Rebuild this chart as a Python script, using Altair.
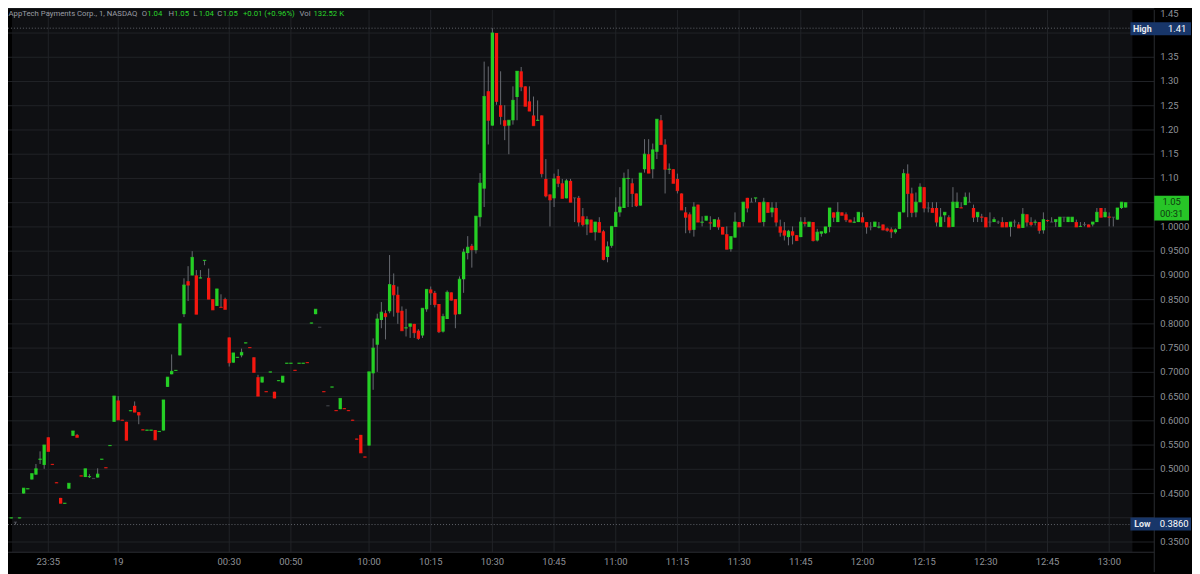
import altair as alt
import pandas as pd

# ---------------- data (1-minute bars, first bar index = -87, 10:00 bar = 0) -------------
FIRST_BAR = -87
OPEN = [
    0.399, 0.391, 0.399, 0.450, 0.459, 0.479, 0.489, 0.520, 0.509, 0.566,
    0.511, 0.473, 0.441, 0.429, 0.460, 0.569, 0.571, 0.487, 0.484, 0.484,
    0.481, 0.483, 0.520, 0.504, 0.548, 0.598, 0.642, 0.602, 0.598, 0.620,
    0.631, 0.618, 0.582, 0.580, 0.580, 0.581, 0.577, 0.580, 0.670, 0.696,
    0.703, 0.735, 0.820, 0.888, 0.900, 0.900, 0.894, 0.930, 0.895, 0.851,
    0.837, 0.835, 0.851, 0.772, 0.720, 0.730, 0.735, 0.760, 0.752, 0.731,
    0.690, 0.679, 0.661, 0.700, 0.660, 0.682, 0.679, 0.718, 0.718, 0.705,
    0.718, 0.718, 0.721, 0.801, 0.820, 0.793, 0.661, 0.631, 0.669, 0.622,
    0.624, 0.626, 0.622, 0.602, 0.563, 0.571, 0.526, 0.549, 0.698, 0.757,
    0.808, 0.822, 0.826, 0.880, 0.860, 0.827, 0.791, 0.794, 0.800, 0.786,
    0.776, 0.830, 0.871, 0.864, 0.841, 0.784, 0.810, 0.865, 0.851, 0.820,
    0.892, 0.946, 0.961, 0.952, 1.020, 1.079, 1.280, 1.209, 1.400, 1.251,
    1.220, 1.209, 1.220, 1.268, 1.321, 1.290, 1.259, 1.230, 1.219, 1.230,
    1.099, 1.067, 1.059, 1.105, 1.090, 1.059, 1.095, 1.060, 1.060, 1.022,
    1.005, 1.015, 0.989, 1.010, 0.991, 0.938, 0.961, 1.000, 1.030, 1.039,
    1.099, 1.090, 1.069, 1.044, 1.119, 1.150, 1.119, 1.155, 1.220, 1.170,
    1.118, 1.119, 1.099, 1.069, 1.030, 1.026, 0.994, 1.046, 1.009, 1.013,
    1.009, 1.000, 1.015, 1.000, 0.985, 0.954, 0.978, 1.010, 1.010, 1.060,
    1.051, 1.059, 1.051, 1.010, 1.051, 1.030, 1.039, 1.001, 0.993, 0.979,
    0.991, 0.983, 0.979, 1.010, 1.000, 1.010, 0.972, 0.986, 0.987, 1.000,
    1.030, 1.010, 1.030, 1.026, 1.015, 1.009, 1.010, 1.020, 1.010, 1.000,
    1.000, 0.999, 1.005, 0.997, 0.995, 0.989, 0.996, 1.030, 1.110, 1.069,
    1.030, 1.051, 1.082, 1.039, 1.039, 1.039, 1.000, 1.024, 1.020, 1.000,
    1.039, 1.040, 1.045, 1.051, 1.039, 1.020, 1.021, 1.020, 1.010, 1.010,
    1.010, 1.010, 1.010, 1.000, 1.010, 1.005, 0.998, 1.026, 1.010, 1.009,
    1.010, 0.993, 1.014, 1.010, 1.010, 1.000, 1.020, 1.010, 1.010, 1.010,
    1.000, 1.005, 1.005, 1.005, 1.010, 1.039, 1.020, 1.021, 1.020, 1.015, 1.039, 1.040,
]
HIGH = [
    0.400, 0.391, 0.400, 0.461, 0.460, 0.491, 0.511, 0.537, 0.550, 0.566,
    0.511, 0.473, 0.441, 0.430, 0.471, 0.579, 0.573, 0.487, 0.501, 0.490,
    0.481, 0.502, 0.521, 0.504, 0.549, 0.651, 0.651, 0.602, 0.598, 0.621,
    0.640, 0.618, 0.582, 0.581, 0.581, 0.581, 0.578, 0.643, 0.690, 0.737,
    0.704, 0.800, 0.894, 0.919, 0.950, 0.911, 0.911, 0.931, 0.914, 0.851,
    0.872, 0.861, 0.854, 0.772, 0.740, 0.731, 0.749, 0.761, 0.752, 0.731,
    0.695, 0.690, 0.661, 0.701, 0.660, 0.683, 0.692, 0.719, 0.719, 0.705,
    0.719, 0.719, 0.721, 0.802, 0.830, 0.793, 0.661, 0.631, 0.670, 0.622,
    0.646, 0.626, 0.622, 0.602, 0.563, 0.571, 0.526, 0.701, 0.770, 0.821,
    0.845, 0.828, 0.942, 0.904, 0.877, 0.836, 0.831, 0.800, 0.800, 0.789,
    0.832, 0.871, 0.877, 0.868, 0.841, 0.821, 0.869, 0.865, 0.851, 0.898,
    0.955, 0.981, 0.965, 1.022, 1.111, 1.341, 1.331, 1.410, 1.400, 1.321,
    1.251, 1.220, 1.290, 1.321, 1.330, 1.290, 1.290, 1.269, 1.261, 1.230,
    1.140, 1.067, 1.110, 1.119, 1.099, 1.099, 1.099, 1.060, 1.064, 1.039,
    1.022, 1.015, 1.010, 1.020, 0.994, 0.970, 1.001, 1.061, 1.082, 1.112,
    1.119, 1.100, 1.069, 1.111, 1.181, 1.181, 1.172, 1.222, 1.231, 1.181,
    1.131, 1.119, 1.110, 1.069, 1.041, 1.030, 1.051, 1.046, 1.022, 1.022,
    1.022, 1.015, 1.020, 1.000, 1.001, 0.980, 1.030, 1.010, 1.051, 1.060,
    1.060, 1.060, 1.051, 1.060, 1.051, 1.051, 1.051, 1.015, 1.010, 0.994,
    1.001, 0.983, 1.020, 1.020, 1.010, 1.010, 0.996, 0.990, 1.000, 1.039,
    1.030, 1.051, 1.030, 1.030, 1.015, 1.020, 1.030, 1.030, 1.010, 1.010,
    1.010, 1.010, 1.005, 0.999, 0.999, 0.997, 1.030, 1.119, 1.129, 1.081,
    1.071, 1.090, 1.082, 1.051, 1.051, 1.051, 1.039, 1.030, 1.024, 1.082,
    1.071, 1.051, 1.071, 1.071, 1.046, 1.030, 1.027, 1.020, 1.030, 1.020,
    1.013, 1.020, 1.010, 1.010, 1.015, 1.010, 1.039, 1.026, 1.020, 1.015,
    1.010, 1.030, 1.015, 1.020, 1.015, 1.020, 1.020, 1.020, 1.020, 1.015,
    1.010, 1.010, 1.005, 1.010, 1.039, 1.039, 1.039, 1.030, 1.020, 1.039, 1.051, 1.050,
]
LOW = [
    0.399, 0.386, 0.399, 0.450, 0.459, 0.479, 0.489, 0.511, 0.501, 0.537,
    0.510, 0.472, 0.430, 0.429, 0.460, 0.569, 0.566, 0.486, 0.484, 0.482,
    0.481, 0.483, 0.520, 0.503, 0.548, 0.598, 0.602, 0.601, 0.560, 0.620,
    0.618, 0.593, 0.581, 0.580, 0.580, 0.561, 0.577, 0.580, 0.670, 0.696,
    0.703, 0.735, 0.814, 0.847, 0.900, 0.820, 0.894, 0.921, 0.851, 0.829,
    0.837, 0.834, 0.830, 0.712, 0.720, 0.730, 0.731, 0.760, 0.751, 0.700,
    0.651, 0.679, 0.660, 0.700, 0.647, 0.682, 0.679, 0.718, 0.718, 0.704,
    0.718, 0.718, 0.720, 0.801, 0.820, 0.793, 0.660, 0.631, 0.669, 0.621,
    0.624, 0.625, 0.621, 0.601, 0.562, 0.534, 0.525, 0.549, 0.664, 0.701,
    0.791, 0.768, 0.822, 0.815, 0.800, 0.786, 0.774, 0.771, 0.771, 0.767,
    0.771, 0.825, 0.839, 0.834, 0.781, 0.782, 0.810, 0.848, 0.791, 0.820,
    0.864, 0.933, 0.916, 0.945, 1.001, 1.041, 1.170, 1.209, 1.252, 1.211,
    1.179, 1.150, 1.211, 1.220, 1.280, 1.249, 1.239, 1.209, 1.219, 1.102,
    1.061, 1.001, 1.041, 1.082, 1.059, 1.059, 1.051, 1.010, 1.001, 1.001,
    0.983, 0.989, 0.972, 0.989, 0.931, 0.927, 0.957, 1.000, 1.021, 1.039,
    1.041, 1.041, 1.041, 1.044, 1.112, 1.111, 1.100, 1.140, 1.170, 1.069,
    1.109, 1.090, 1.069, 1.035, 0.987, 0.987, 0.980, 1.010, 1.001, 1.013,
    0.994, 1.000, 0.994, 0.985, 0.954, 0.949, 0.978, 1.000, 1.001, 1.030,
    1.051, 1.051, 1.010, 1.001, 1.030, 1.020, 1.001, 0.980, 0.972, 0.962,
    0.964, 0.971, 0.979, 1.001, 1.000, 0.970, 0.970, 0.980, 0.986, 0.989,
    1.010, 1.010, 1.024, 1.010, 1.010, 1.008, 1.010, 1.010, 0.986, 0.993,
    1.000, 0.997, 0.993, 0.990, 0.977, 0.986, 0.996, 1.030, 1.020, 1.020,
    1.020, 1.051, 1.030, 1.030, 1.030, 1.001, 1.000, 1.010, 1.000, 1.000,
    1.039, 1.039, 1.045, 1.051, 1.010, 1.010, 1.010, 1.000, 1.000, 1.010,
    1.006, 1.000, 1.000, 0.980, 1.000, 0.998, 0.998, 1.001, 1.001, 1.003,
    0.986, 0.986, 1.010, 1.010, 1.000, 1.000, 1.010, 1.010, 1.010, 1.000,
    1.000, 1.001, 1.000, 1.001, 1.010, 1.020, 1.020, 1.001, 1.001, 1.015, 1.037, 1.040,
]
CLOSE = [
    0.400, 0.391, 0.400, 0.461, 0.460, 0.491, 0.501, 0.521, 0.550, 0.537,
    0.510, 0.472, 0.430, 0.430, 0.471, 0.579, 0.566, 0.486, 0.501, 0.485,
    0.481, 0.490, 0.521, 0.503, 0.549, 0.651, 0.602, 0.601, 0.560, 0.621,
    0.618, 0.612, 0.581, 0.581, 0.581, 0.561, 0.578, 0.643, 0.690, 0.702,
    0.704, 0.800, 0.880, 0.880, 0.937, 0.820, 0.895, 0.931, 0.851, 0.829,
    0.872, 0.834, 0.830, 0.720, 0.740, 0.731, 0.741, 0.761, 0.751, 0.700,
    0.651, 0.690, 0.660, 0.701, 0.647, 0.683, 0.692, 0.719, 0.719, 0.704,
    0.719, 0.719, 0.720, 0.802, 0.830, 0.793, 0.660, 0.631, 0.670, 0.621,
    0.646, 0.625, 0.621, 0.601, 0.562, 0.534, 0.525, 0.701, 0.750, 0.810,
    0.824, 0.815, 0.881, 0.860, 0.824, 0.786, 0.792, 0.800, 0.782, 0.770,
    0.832, 0.871, 0.864, 0.840, 0.784, 0.815, 0.865, 0.849, 0.820, 0.892,
    0.948, 0.958, 0.953, 1.022, 1.090, 1.269, 1.220, 1.400, 1.259, 1.228,
    1.209, 1.220, 1.261, 1.321, 1.289, 1.249, 1.239, 1.209, 1.220, 1.110,
    1.064, 1.056, 1.099, 1.090, 1.059, 1.095, 1.051, 1.060, 1.010, 1.005,
    1.015, 0.989, 1.010, 0.989, 0.933, 0.959, 1.001, 1.030, 1.041, 1.100,
    1.100, 1.069, 1.044, 1.111, 1.150, 1.111, 1.159, 1.222, 1.170, 1.119,
    1.119, 1.090, 1.075, 1.035, 1.020, 0.994, 1.041, 1.010, 1.010, 1.022,
    1.008, 1.015, 1.000, 0.985, 0.954, 0.980, 1.010, 1.000, 1.051, 1.039,
    1.051, 1.060, 1.010, 1.051, 1.030, 1.039, 1.010, 0.989, 0.983, 0.991,
    0.983, 0.972, 1.010, 1.007, 1.010, 0.972, 0.989, 0.990, 1.000, 1.039,
    1.020, 1.030, 1.024, 1.015, 1.010, 1.010, 1.030, 1.010, 1.000, 1.000,
    1.010, 1.000, 0.994, 0.993, 0.990, 0.994, 1.030, 1.110, 1.069, 1.030,
    1.051, 1.082, 1.039, 1.039, 1.030, 1.010, 1.020, 1.030, 1.000, 1.051,
    1.051, 1.039, 1.061, 1.051, 1.020, 1.030, 1.020, 1.000, 1.010, 1.015,
    1.010, 1.000, 1.000, 1.010, 1.010, 0.998, 1.026, 1.010, 1.005, 1.010,
    0.993, 1.015, 1.013, 1.010, 1.015, 1.020, 1.020, 1.020, 1.020, 1.000,
    1.001, 1.005, 1.000, 1.010, 1.030, 1.020, 1.030, 1.020, 1.020, 1.039, 1.051, 1.050,
]

PRICE_TICKS = [0.35, 0.40, 0.45, 0.50, 0.55, 0.60, 0.65, 0.70, 0.75, 0.80, 0.85, 0.90,
               0.95, 1.00, 1.05, 1.10, 1.15, 1.20, 1.25, 1.30, 1.35, 1.40, 1.45]
# labels that the High / Low / last-price badges cover in the original are left out
COVERED_TICKS = [0.40, 1.05, 1.40]
TIME_TICKS = [-78, -61, -34, -19, 0, 15, 30, 45, 60, 75, 90, 105, 120, 135, 150, 165, 180]
TIME_LABELS = ["23:35", "19", "00:30", "00:50", "10:00", "10:15", "10:30", "10:45", "11:00",
               "11:15", "11:30", "11:45", "12:00", "12:15", "12:30", "12:45", "13:00"]
SESSION_HIGH = 1.41
SESSION_LOW = 0.386
LAST_PRICE = 1.05
COUNTDOWN = "00:31"
SYMBOL = "AppTech Payments Corp., 1, NASDAQ"
LEGEND_ITEMS = [("O", "1.04"), ("H", "1.05"), ("L", "1.04"), ("C", "1.05")]
CHANGE = "+0.01 (+0.96%)"
VOLUME = "132.52 K"

n = len(OPEN)
assert len(HIGH) == n and len(LOW) == n and len(CLOSE) == n
bars = pd.DataFrame({
    "idx": list(range(FIRST_BAR, FIRST_BAR + n)),
    "open": OPEN, "high": HIGH, "low": LOW, "close": CLOSE,
})
bars["dir"] = ["up" if c > o else ("down" if c < o else "flat") for o, c in zip(OPEN, CLOSE)]

grid_df = pd.DataFrame({"price": PRICE_TICKS})
shown = [v for v in PRICE_TICKS if all(abs(v - c) > 1e-9 for c in COVERED_TICKS)]
price_df = pd.DataFrame({
    "price": shown,
    "label": [("%.2f" % v) if v > 1.02 else ("%.4f" % v) for v in shown],
})
time_df = pd.DataFrame({"idx": TIME_TICKS, "label": TIME_LABELS})

# ---------------- styling ----------------
W, H = 1154, 546
PLOT_BG = "#0f1013"
GRID = "#212327"
UP = "#25cf25"
DOWN = "#f5170f"
FLAT = "#52555c"
WICK = "#686b72"
TXT = "#8e9197"
AXIS_LINE = "#2a2c31"
BADGE_BLUE = "#183669"
BADGE_GREEN = "#27c527"
FONT = "Roboto"

xs = alt.Scale(domain=[-86.59, 189.75], nice=False, zero=False)
ys = alt.Scale(domain=[0.3289, 1.4477], nice=False, zero=False)

one = pd.DataFrame({"a": [0]})

bg = alt.Chart(one).mark_rect(color=PLOT_BG).encode(
    x=alt.value(4), x2=alt.value(1132), y=alt.value(0), y2=alt.value(H))

ygrid = alt.Chart(grid_df).mark_rule(color=GRID, strokeWidth=1).encode(
    y=alt.Y("price:Q", scale=ys, axis=None), x=alt.value(0), x2=alt.value(W))

xgrid = alt.Chart(time_df).mark_rule(color=GRID, strokeWidth=1).encode(
    x=alt.X("idx:Q", scale=xs, axis=None), y=alt.value(0), y2=alt.value(H))

# axis labels drawn as text through the same scales
ylabels = alt.Chart(price_df).transform_filter("datum.price < 1.44").mark_text(
    align="left", baseline="middle", font=FONT, fontSize=9.5, color=TXT).encode(
    y=alt.Y("price:Q", scale=ys, axis=None), x=alt.value(W + 6), text="label:N")
ylabel_top = alt.Chart(price_df).transform_filter("datum.price > 1.44").mark_text(
    align="left", baseline="top", font=FONT, fontSize=9.5, color=TXT).encode(
    y=alt.Y("price:Q", scale=ys, axis=None), x=alt.value(W + 6), text="label:N")
xlabels = alt.Chart(time_df).mark_text(
    align="center", baseline="middle", font=FONT, fontSize=9.5, color=TXT).encode(
    x=alt.X("idx:Q", scale=xs, axis=None), y=alt.value(H + 10), text="label:N")

hilo = alt.Chart(pd.DataFrame({"price": [SESSION_HIGH, SESSION_LOW]})).mark_rule(
    color="#60636a", strokeDash=[1, 2], strokeWidth=1).encode(
    y=alt.Y("price:Q", scale=ys, axis=None), x=alt.value(0), x2=alt.value(1130))

base = alt.Chart(bars)
wicks = base.mark_rule(color=WICK, strokeWidth=1).encode(
    x=alt.X("idx:Q", scale=xs, axis=None),
    y=alt.Y("low:Q", scale=ys, axis=None), y2="high:Q")

color_enc = alt.Color("dir:N", scale=alt.Scale(domain=["up", "down", "flat"], range=[UP, DOWN, FLAT]),
                      legend=None)
bodies = base.mark_bar(size=3.3).encode(
    x=alt.X("idx:Q", scale=xs, axis=None),
    y=alt.Y("open:Q", scale=ys, axis=None), y2="close:Q", color=color_enc)
dashes = base.mark_tick(orient="horizontal", size=3.3, thickness=1.2).encode(
    x=alt.X("idx:Q", scale=xs, axis=None),
    y=alt.Y("close:Q", scale=ys, axis=None), color=color_enc)

# axis lines: bottom of the plot and the price-scale separator
bottom_line = alt.Chart(one).mark_rule(color=AXIS_LINE).encode(
    x=alt.value(0), x2=alt.value(W), y=alt.value(H))
sep = alt.Chart(one).mark_rule(color=AXIS_LINE).encode(
    x=alt.value(W), y=alt.value(0), y2=alt.value(H + 20))


def rect(x1, x2, y1, y2, color):
    return alt.Chart(one).mark_rect(color=color).encode(
        x=alt.value(x1), x2=alt.value(x2), y=alt.value(y1), y2=alt.value(y2))


def label(txt, x, y, color, size=9.5, align="center", weight="normal"):
    return alt.Chart(one).mark_text(color=color, font=FONT, fontSize=size, align=align,
                                    baseline="middle", fontWeight=weight).encode(
        x=alt.value(x), y=alt.value(y), text=alt.value(txt))


badges = [
    rect(1130, 1191, 12.5, 25.5, BADGE_BLUE),
    label("High", 1142, 19, "#e6e8ee", 9, weight="bold"),
    label("%.2f" % SESSION_HIGH, 1177, 19, "#ffffff", 9.5),
    rect(1130, 1191, 511, 524, BADGE_BLUE),
    label("Low", 1142, 517.5, "#e6e8ee", 9, weight="bold"),
    label("%.4f" % SESSION_LOW, 1174, 517.5, "#ffffff", 9.5),
    rect(1154, 1189, 187, 212, BADGE_GREEN),
    label("%.2f" % LAST_PRICE, 1171.5, 193.5, "#0f3a0f", 9.5),
    label(COUNTDOWN, 1171.5, 205.5, "#0f3a0f", 9.5),
]

TITLE_GRAY = "#9a9da4"
TITLE_GREEN = "#2ad62a"
ty = 4
TS = 7.8
title_parts = [label(SYMBOL, 0.5, ty, TITLE_GRAY, TS, align="left")]
lx = [134.6, 161.6, 186.6, 210.6]
for (k, v), x0 in zip(LEGEND_ITEMS, lx):
    title_parts.append(label(k, x0, ty, TITLE_GRAY, TS, align="left"))
    title_parts.append(label(v, x0 + 5.5, ty, TITLE_GREEN, TS, align="left"))
title_parts.append(label(CHANGE, 236.5, ty, TITLE_GREEN, TS, align="left"))
title_parts.append(label("Vol", 293.5, ty, TITLE_GRAY, TS, align="left"))
title_parts.append(label(VOLUME, 307.5, ty, TITLE_GREEN, TS, align="left"))

chart = alt.layer(
    bg, ygrid, xgrid, hilo, wicks, bodies, dashes, bottom_line, sep,
    ylabels, ylabel_top, xlabels, *badges, *title_parts
).properties(
    width=W, height=H,
    padding={"left": 0, "top": 0, "right": 38, "bottom": 20},
    autosize=alt.AutoSizeParams(type="none"),
    background="#000000",
).configure_view(stroke=None)

chart.save("out.html", embed_options={"renderer": "svg", "actions": False})
